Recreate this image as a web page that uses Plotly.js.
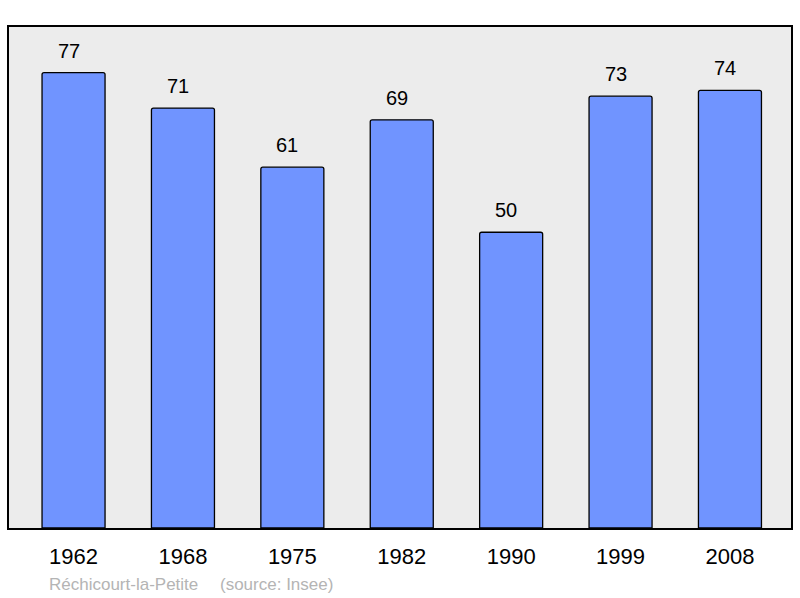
<!DOCTYPE html>
<html>
<head>
<meta charset="utf-8">
<script src="https://cdn.plot.ly/plotly-3.0.1.min.js"></script>
<style>
  html, body { margin: 0; padding: 0; background: #fff; }
  #chart { width: 800px; height: 598px; }
</style>
</head>
<body>
<div id="chart"></div>
<script>
var years = ['1962', '1968', '1975', '1982', '1990', '1999', '2008'];
var population = [77, 71, 61, 69, 50, 73, 74];
var town = 'Réchicourt-la-Petite';
var source = '(source: Insee)';

var font_family = '"Liberation Sans", Arial, sans-serif';

var trace1 = {
  x: years,
  y: population,
  type: 'bar',
  width: 0.576,
  marker: {
    color: '#7094ff',
    line: { color: '#000', width: 1.3 },
    cornerradius: 2
  },
  hoverinfo: 'none'
};

// value labels above each bar (x given as category index, year strings look numeric)
var labels = years.map(function (yr, i) {
  return {
    x: i,
    y: population[i],
    xref: 'x',
    yref: 'y',
    text: String(population[i]),
    showarrow: false,
    yanchor: 'middle',
    xshift: -5,
    yshift: 22,
    font: { family: font_family, size: 20, color: '#000' }
  };
});

labels.push({
  xref: 'paper', yref: 'paper',
  x: 38 / 782, y: -56 / 501,
  xanchor: 'left', yanchor: 'middle',
  text: town, showarrow: false,
  font: { family: font_family, size: 17, color: '#b4b4b4' }
});
labels.push({
  xref: 'paper', yref: 'paper',
  x: 209 / 782, y: -56 / 501,
  xanchor: 'left', yanchor: 'middle',
  text: source, showarrow: false,
  font: { family: font_family, size: 17, color: '#b4b4b4' }
});

var layout = {
  width: 800,
  height: 598,
  margin: { l: 9, r: 9, t: 27, b: 70, pad: 0 },
  paper_bgcolor: '#fff',
  plot_bgcolor: '#ececec',
  showlegend: false,
  xaxis: {
    type: 'category',
    range: [-0.59, 6.558],
    showgrid: false,
    zeroline: false,
    ticks: '',
    showline: true,
    linecolor: '#000',
    linewidth: 2,
    mirror: true,
    ticklabelstandoff: 8,
    tickfont: { family: font_family, size: 22, color: '#000' }
  },
  yaxis: {
    range: [0, 84.7],
    showgrid: false,
    zeroline: false,
    showticklabels: false,
    ticks: '',
    showline: true,
    linecolor: '#000',
    linewidth: 2,
    mirror: true
  },
  annotations: labels
};

Plotly.newPlot('chart', [trace1], layout, { displayModeBar: false, staticPlot: true });
</script>
</body>
</html>
